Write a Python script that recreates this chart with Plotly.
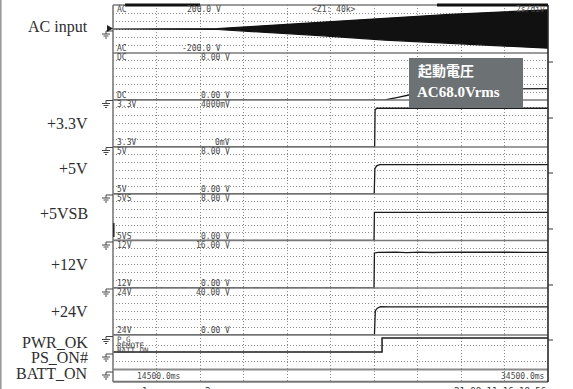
import plotly.graph_objects as go

# ---------------- recorded channels (time in ms) ----------------
T_START, T_END, T_DIV = 14500, 34500, 2000

# AC input: peak envelope of the mains waveform (V)
ac_env_t = [14500, 19300, 21000, 24000, 27000, 30000, 32500, 34500]
ac_env_pk = [0, 4, 22, 55, 92, 122, 143, 160]

# DC channel (V)
dc_t = [14500, 27000, 27600, 28100, 29000, 30500, 32000, 34500]
dc_v = [0, 0, 0.45, 0.85, 1.3, 1.7, 1.9, 1.92]

# +3.3V rail (mV)
v33_t = [14500, 26530, 26550, 26620, 34500]
v33_v = [0, 0, 3150, 3300, 3300]

# +5V rail (V)
v5_t = [14500, 26510, 26540, 26620, 26760, 34500]
v5_v = [0, 0, 4.3, 4.8, 5.0, 5.0]

# +5VSB rail (V)
v5sb_t = [14500, 26500, 26520, 34500]
v5sb_v = [0, 0, 4.85, 4.85]

# +12V rail (V)
v12_t = [14500, 26500, 26520, 26700, 27500, 28000, 28600, 29200, 30000,
         31000, 31800, 32600, 33400, 34500]
v12_v = [0, 0, 11.8, 12.0, 12.1, 11.9, 12.1, 11.95, 12.1,
         12.0, 11.9, 12.05, 12.0, 12.0]

# +24V rail (V)
v24_t = [14500, 26520, 26560, 26650, 26800, 26950, 27200, 34500]
v24_v = [0, 0, 20.5, 22.8, 24.2, 24.3, 24.0, 24.0]

# logic lines (0 = low, 1 = high)
pwr_ok_t = [14500, 26870, 34500]
pwr_ok_v = [0, 1, 1]
ps_on_t = [14500, 34500]
ps_on_v = [0, 0]
batt_on_t = [14500, 34500]
batt_on_v = [0, 0]

# per-channel scale labels and full-scale limits
ch_names = ["AC", "DC", "3.3V", "5V", "5VS", "12V", "24V"]
ch_top_text = ["200.0 V", "8.00 V", "4000mV", "8.00 V", "8.00 V", "16.00 V", "40.00 V"]
ch_bot_text = ["-200.0 V", "0.00 V", "0mV", "0.00 V", "0.00 V", "0.00 V", "0.00 V"]
ch_lo = [-200, 0, 0, 0, 0, 0, 0]
ch_hi = [200, 8, 4000, 8, 8, 16, 40]

side_labels = ["AC input", "+3.3V", "+5V", "+5VSB", "+12V", "+24V",
               "PWR_OK", "PS_ON#", "BATT_ON"]

# ---------------- page geometry (pixels) ----------------
W, H = 573, 389
L, R, T, B = 113, 548, 5, 382
panel_edges = [5, 53, 100, 147, 194, 240.5, 288, 335]
LOGIC_TOP = 335


def px(x):
    return (x - L) / (R - L)


def py(y):
    return (B - y) / (B - T)


INK = "#1b1b1b"
GRID = "#8a8a8a"
EDGE = "#7a7a7a"
MONO = "DejaVu Sans Mono"
DOT = "1px,2px"

fig = go.Figure()


def add_line(t, v, yref, width=1.3, color=INK, shape="linear"):
    fig.add_trace(go.Scatter(
        x=t, y=v, mode="lines", xaxis="x", yaxis=yref,
        line=dict(color=color, width=width, shape=shape),
        hoverinfo="skip", showlegend=False))


# AC waveform drawn as its filled envelope
fig.add_trace(go.Scatter(
    x=ac_env_t + ac_env_t[::-1],
    y=ac_env_pk + [-p for p in ac_env_pk[::-1]],
    mode="lines", fill="toself", fillcolor="#111111",
    line=dict(color="#111111", width=1.2),
    xaxis="x", yaxis="y", hoverinfo="skip", showlegend=False))

add_line(dc_t, dc_v, "y2")
add_line(v33_t, v33_v, "y3")
add_line(v5_t, v5_v, "y4")
add_line(v5sb_t, v5sb_v, "y5")
add_line(v12_t, v12_v, "y6")
add_line(v24_t, v24_v, "y7")
add_line(pwr_ok_t, pwr_ok_v, "y8", width=1.5, shape="hv")
add_line(ps_on_t, ps_on_v, "y9", width=1.3, color="#6a6a6a")
add_line(batt_on_t, batt_on_v, "y10", width=1.3, color="#6a6a6a")

layout_axes = {}
layout_axes["xaxis"] = dict(
    range=[T_START, T_END], tick0=T_START, dtick=T_DIV, showgrid=True,
    gridcolor=GRID, griddash=DOT, gridwidth=1, showticklabels=False,
    ticks="", zeroline=False, showline=False, anchor="y", domain=[0, 1])

for i in range(7):
    key = "yaxis" if i == 0 else "yaxis%d" % (i + 1)
    top, bot = panel_edges[i], panel_edges[i + 1]
    lo, hi = ch_lo[i], ch_hi[i]
    layout_axes[key] = dict(
        domain=[py(bot), py(top)], range=[lo, hi], tick0=lo, dtick=(hi - lo) / 6,
        showgrid=True, gridcolor=GRID, griddash=DOT, gridwidth=1,
        showticklabels=False, ticks="", zeroline=False, showline=False,
        anchor="x")


def logic_scale(y_low, y_high):
    """Axis range placing logic 0 / 1 at the given pixel rows of the logic block."""
    h = B - LOGIC_TOP
    p0, p1 = B - y_low, B - y_high
    lo = -p0 / (p1 - p0)
    return [lo, lo + h / (p1 - p0)], (lambda y: ((B - y) - p0) / (p1 - p0))


# logic block: PWR_OK axis carries the grid, the other two overlay it
pg_range, pg_at = logic_scale(352, 338)
layout_axes["yaxis8"] = dict(
    domain=[py(B), py(LOGIC_TOP)], range=pg_range,
    tickvals=[pg_at(345), pg_at(361)],
    showgrid=True, gridcolor=GRID, griddash=DOT, gridwidth=1,
    showticklabels=False, ticks="", zeroline=False, showline=False, anchor="x")

for key, (ylo, yhi) in zip(["yaxis9", "yaxis10"], [(369.5, 356), (381.5, 368)]):
    layout_axes[key] = dict(
        overlaying="y8", range=logic_scale(ylo, yhi)[0], showgrid=False,
        showticklabels=False, ticks="", zeroline=False, showline=False,
        anchor="x")

shapes = []


def seg(x0, y0, x1, y1, color=EDGE, width=1.5):
    shapes.append(dict(type="line", xref="paper", yref="paper",
                       x0=px(x0), y0=py(y0), x1=px(x1), y1=py(y1),
                       line=dict(color=color, width=width), layer="above"))


# panel separators and frame
for y in panel_edges[1:]:
    seg(L, y, R, y)
seg(L, 369.5, R, 369.5, color="#8a8a8a", width=1.4)
seg(L, T, R, T, color=EDGE, width=1.5)
seg(L, B, R, B, color=EDGE, width=1.5)
seg(L, T, L, B, color=EDGE, width=1.6)
seg(R, T, R, B, color="#2a2a2a", width=1.6)
seg(0.8, 0, 0.8, H, color="#9a9a9a", width=1.6)

# position bars along the top edge
seg(125, 5, 200, 5, color="#111111", width=3)
seg(437, 5, R, 5, color="#111111", width=3)

# scale ticks on the right edge
for y in [62, 118, 173, 229, 285, 340]:
    seg(R, y, R + 5, y, color="#333333", width=1)

# short marker at the left edge of the 5VSB panel
seg(L + 0.8, 223, L + 0.8, 237, color="#222222", width=1.5)

# ground symbols beside every channel
for y0 in [31, 100.5, 147.5, 195, 242, 289, 336.5, 354, 372]:
    seg(106, y0, L, y0, color="#444444", width=1)
    seg(106, y0, 106, y0 + 3, color="#444444", width=1)
    seg(102, y0 + 3, 110, y0 + 3, color="#444444", width=1)
    seg(103.5, y0 + 5, 108.5, y0 + 5, color="#444444", width=1)
    seg(105, y0 + 7, 107, y0 + 7, color="#444444", width=1)

# trigger arrow on the AC channel
shapes.append(dict(type="path", xref="paper", yref="paper",
                   path="M %f %f L %f %f L %f %f Z" % (
                       px(107), py(25), px(113), py(28.5), px(107), py(32)),
                   fillcolor="#222222", line=dict(width=0), layer="above"))

# callout box
shapes.append(dict(type="rect", xref="paper", yref="paper",
                   x0=px(409), x1=px(523), y0=py(108), y1=py(58),
                   fillcolor="rgb(108,113,116)", line=dict(width=0), layer="above"))

annotations = []


def text(x, y, s, size=8, color="#474747", family=MONO, xanchor="left",
         yanchor="middle"):
    annotations.append(dict(x=px(x), y=py(y), xref="paper", yref="paper",
                            text=s, showarrow=False, xanchor=xanchor,
                            yanchor=yanchor,
                            font=dict(family=family, size=size, color=color)))


for i in range(7):
    top, bot = panel_edges[i], panel_edges[i + 1]
    right = 223 if i == 0 else 232
    text(115, top + 4.5, ch_names[i])
    text(115, bot - 4.5, ch_names[i])
    text(right, top + 4.5, ch_top_text[i], xanchor="right")
    text(right, bot - 4.5, ch_bot_text[i], xanchor="right")

text(115, 339.5, "P.G", size=7.5)
text(115, 345, "REMOTE", size=7.5)
text(115, 350.5, "BATT ON", size=7.5)
text(135, 376, "14500.0ms")
text(547, 376, "34500.0ms", xanchor="right")
text(310, 9.5, "&lt;Z1: 40k&gt;")
text(547, 9.5, "2s/div", xanchor="right")
text(548, 384, "21-08-11 16:18:56", size=9, color="#333333",
     xanchor="right", yanchor="top")
text(140, 384, "1", size=9, color="#333333", yanchor="top")
text(203, 384, "2", size=9, color="#333333", yanchor="top")

for lab, y in zip(side_labels, [27, 123, 168, 214, 264, 311, 342, 357.5, 373]):
    text(90, y, lab, size=16, color="#2e2e2e", family="Liberation Serif",
         xanchor="right")

text(416, 70, "<b>起動電圧</b>", size=14, color="white",
     family="Noto Sans CJK JP")
text(415, 92, "<b>AC68.0Vrms</b>", size=15, color="white",
     family="Liberation Serif")

fig.update_layout(
    width=W, height=H,
    margin=dict(l=L, r=W - R, t=T, b=H - B, pad=0),
    paper_bgcolor="white", plot_bgcolor="white",
    showlegend=False, shapes=shapes, annotations=annotations,
    **layout_axes)

fig.write_html("out.html")
